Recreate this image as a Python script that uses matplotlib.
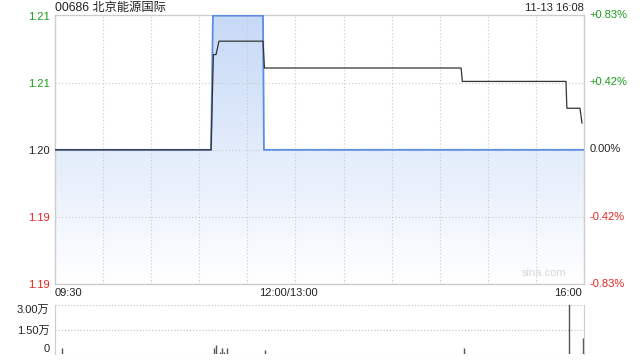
"""Intraday price / volume chart for 00686."""

import numpy as np
import matplotlib
matplotlib.use('Agg')
import matplotlib.pyplot as plt
from matplotlib.colors import LinearSegmentedColormap
from matplotlib.patches import Polygon
from matplotlib.transforms import offset_copy

plt.rcParams['font.family'] = ['Liberation Sans', 'Noto Sans CJK SC', 'DejaVu Sans']

# ---- data (minutes since 09:30, lunch break removed; 340 = 16:10) ----
title = '00686 北京能源国际'
stamp = '11-13 16:08'
prev_close = 1.20

price_t = [0, 100.3, 101.5, 133.7, 134.3, 340]
price_v = [1.20, 1.20, 1.21, 1.21, 1.20, 1.20]

avg_t = [0, 100.3, 101.8, 103.5, 105.4, 133.7, 134.6, 261.0, 261.8, 328.4, 329.0, 337.4, 338.7]
avg_v = [1.20, 1.20, 1.2071, 1.2071, 1.2081, 1.2081, 1.2061, 1.2061, 1.2051, 1.2051,
         1.2031, 1.2031, 1.2020]

vol_t = [4.5, 102.2, 103.5, 106.0, 107.3, 108.6, 110.5, 135.0, 262.9, 330.4, 339.4, 340.0]
vol_v = [0.37, 0.37, 0.55, 0.12, 0.37, 0.12, 0.37, 0.25, 0.37, 3.2, 0.98, 0.98]  # 万

price_ticks = [1.19, 1.195, 1.20, 1.205, 1.21]
price_labels = ['1.19', '1.19', '1.20', '1.21', '1.21']
pct_labels = ['-0.83%', '-0.42%', '0.00%', '+0.42%', '+0.83%']
vol_ticks = [0, 1.5, 3.0]
vol_labels = ['0', '1.50万', '3.00万']
time_labels = ['09:30', '12:00/13:00', '16:00']
time_pos = [0, 150, 330]

T_MAX = 340
GREEN, RED, DARK = '#1a9a1a', '#e8251f', '#222222'
GRID = '#c8c8c8'
FS = 8

fig = plt.figure(figsize=(6.4, 3.6), dpi=100)
fig.patch.set_facecolor('white')
ax = fig.add_axes([55 / 640, 1 - 284 / 360, 529 / 640, 269 / 360])
axv = fig.add_axes([55 / 640, 1 - 354 / 360, 529 / 640, 49 / 360])

ymin, ymax = price_ticks[0], price_ticks[-1]
ax.set_xlim(0, T_MAX)
ax.set_ylim(ymin, ymax + 0.00005)

# gradient fill below the price line
cmap = LinearSegmentedColormap.from_list('fill', ['#ffffff', '#c6d9f7'])
grad = np.linspace(0, 1, 256).reshape(-1, 1)
img = ax.imshow(grad, cmap=cmap, aspect='auto', origin='lower',
                extent=(0, T_MAX, ymin, ymax), zorder=1)
poly = Polygon(list(zip(price_t, price_v)) + [(T_MAX, ymin), (0, ymin)],
               closed=True, facecolor='none', edgecolor='none')
ax.add_patch(poly)
img.set_clip_path(poly)

# grid
for k in range(1, 11):
    ax.axvline(T_MAX * k / 11, color=GRID, linestyle=(0, (1, 2)), linewidth=0.8, zorder=2)
for y in price_ticks[1:-1]:
    ax.axhline(y, color=GRID, linestyle=(0, (1, 2)), linewidth=0.8, zorder=2)

ax.plot(price_t, price_v, color='#5b8de3', linewidth=1.3, zorder=3)
ax.plot(avg_t, avg_v, color='#333333', linewidth=0.9, zorder=4)

ax.set_yticks(price_ticks)
ax.set_yticklabels(price_labels, fontsize=FS)
ax.tick_params(length=0, pad=4)
ax.set_xticks([])
for lab, y in zip(ax.get_yticklabels(), price_ticks):
    lab.set_color(GREEN if y > prev_close else RED if y < prev_close else DARK)

for y, s in zip(price_ticks, pct_labels):
    c = GREEN if y > prev_close else RED if y < prev_close else DARK
    ax.text(1.01, (y - ymin) / (ymax - ymin), s, transform=ax.transAxes,
            fontsize=FS, color=c, va='center', ha='left')

for s in ax.spines.values():
    s.set_color('#cccccc')
    s.set_linewidth(1)

top_tr = offset_copy(ax.transAxes, fig=fig, x=0, y=7, units='dots')
ax.text(0, 1, title, transform=top_tr, fontsize=8.8, color=DARK,
        ha='left', va='center')
ax.text(1, 1, stamp, transform=top_tr, fontsize=FS, color=DARK,
        ha='right', va='center')
ax.text(0.925, 0.022, 'sina.com', transform=ax.transAxes, fontsize=FS,
        color='#d8d8d8', ha='center', va='bottom')

for t, s in zip(time_pos, time_labels):
    ha = 'left' if t == 0 else 'center'
    ax.text(t, -0.015, s, transform=ax.get_xaxis_transform(), fontsize=FS,
            color=DARK, ha=ha, va='top')

# volume panel
axv.set_xlim(0, T_MAX)
axv.set_ylim(0, vol_ticks[-1])
axv.vlines(vol_t, 0, vol_v, color='#555555', linewidth=1)
for y in vol_ticks:
    axv.axhline(y, color=GRID, linestyle=(0, (1, 1.5)), linewidth=0.9, zorder=0)
axv.set_xticks([])
axv.set_yticks(vol_ticks)
axv.set_yticklabels(vol_labels, fontsize=FS, color=DARK)
axv.tick_params(length=0, pad=4)
labs = axv.get_yticklabels()
labs[0].set_va('bottom')
labs[-1].set_va('top')
for side in ('top', 'bottom'):
    axv.spines[side].set_visible(False)
for side in ('left', 'right'):
    axv.spines[side].set_color('#cccccc')

fig.savefig('out.png', dpi=100, facecolor='white')
